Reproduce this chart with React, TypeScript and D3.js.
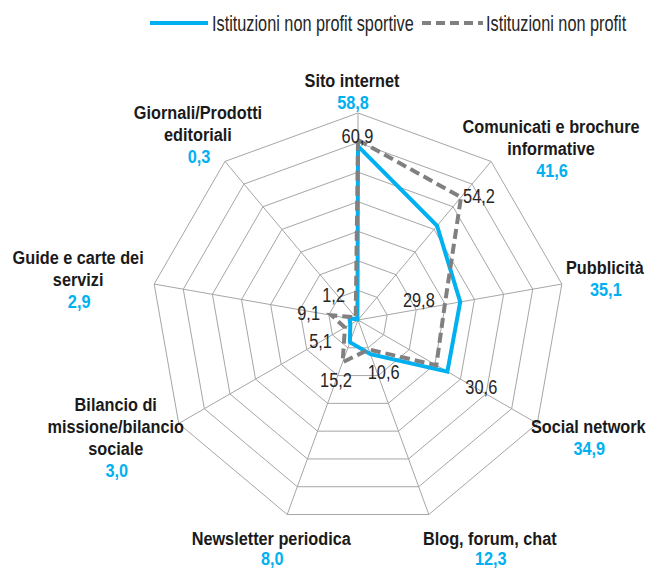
import React from "react";
import * as d3 from "d3";

const categories = [
  ["Sito internet"],
  ["Comunicati e brochure", "informative"],
  ["Pubblicità"],
  ["Social network"],
  ["Blog, forum, chat"],
  ["Newsletter periodica"],
  ["Bilancio di", "missione/bilancio", "sociale"],
  ["Guide e carte dei", "servizi"],
  ["Giornali/Prodotti", "editoriali"],
];
const sportive = [58.8, 41.6, 35.1, 34.9, 12.3, 8.0, 3.0, 2.9, 0.3];
const nonProfit = [60.9, 54.2, 29.8, 30.6, 10.6, 15.2, 5.1, 9.1, 1.2];
const ringTicks = [10, 20, 30, 40, 50, 60, 70];
const seriesNames = ["Istituzioni non profit sportive", "Istituzioni non profit"];

// layout (offsets from outer vertex for category labels; from point for value labels)
const catLabelOffsets: [number, number][] = [
  [-6, -26], [60, -28], [43, -10], [51, 9], [61, 30.5], [-16, 30.5], [-63, -12.5], [-76, -20], [-27, -42],
];
const valLabelOffsets: [number, number, string][] = [
  [-0.5, 3, "middle"], [2, 6, "start"], [-10, 2, "end"], [29, 29, "start"], [-1, 30, "start"],
  [-6.6, 25, "middle"], [-13, 20.5, "end"], [-11.5, 4.7, "end"], [-10.7, -15, "end"],
];

const W = 649, H = 569;
const cx = 358, cy = 320, R = 207;
const BLUE = "#00B0F0";
const GRAY = "#808080";
const fmt = (v: number) => v.toFixed(1).replace(".", ",");

export default function App() {
  const n = categories.length;
  const angle = d3.scaleLinear().domain([0, n]).range([0, 2 * Math.PI]);
  const r = d3.scaleLinear().domain([0, 70]).range([0, R]);
  const pt = (i: number, v: number): [number, number] => {
    const a = angle(i);
    return [cx + r(v) * Math.sin(a), cy - r(v) * Math.cos(a)];
  };
  const line = d3.line<[number, number]>().curve(d3.curveLinearClosed);
  const sPts = sportive.map((v, i) => pt(i, v));
  const nPts = nonProfit.map((v, i) => pt(i, v));

  const T = (x: number, y: number, sx: number) => `translate(${x},${y}) scale(${sx},1)`;
  const boldFont = { fontFamily: "'Liberation Sans', Arial, sans-serif", fontWeight: 700, fontSize: 18.5 };
  const regFont = { fontFamily: "'Liberation Sans', Arial, sans-serif", fontWeight: 400, fontSize: 21 };

  return (
    <svg width={W} height={H} style={{ position: "absolute", left: 0, top: 0, background: "#fff" }}>
      {/* grid */}
      <g fill="none" stroke="#a6a6a6" strokeWidth={1}>
        {ringTicks.map((t) => (
          <path key={t} d={line(d3.range(n).map((i) => pt(i, t)))!} />
        ))}
        {d3.range(n).map((i) => {
          const [x, y] = pt(i, 70);
          return <line key={i} x1={cx} y1={cy} x2={x} y2={y} />;
        })}
      </g>
      {/* series */}
      <path d={line(sPts)!} fill="none" stroke={BLUE} strokeWidth={4} strokeLinejoin="miter" />
      <path d={line(nPts)!} fill="none" stroke={GRAY} strokeWidth={4} strokeDasharray="10,5" />

      {/* gray value labels */}
      {nonProfit.map((v, i) => {
        const [x, y] = nPts[i];
        const [dx, dy, anchor] = valLabelOffsets[i];
        return (
          <text key={i} transform={T(x + dx, y + dy, 0.78)} textAnchor={anchor as any} fill="#262626" style={regFont}>
            {fmt(v)}
          </text>
        );
      })}

      {/* category labels */}
      {categories.map((lines, i) => {
        const [vx, vy] = pt(i, 70);
        const [dx, dy] = catLabelOffsets[i];
        const x = vx + dx, y0 = vy + dy;
        return (
          <g key={i}>
            {lines.map((l, j) => (
              <text key={j} transform={T(x, y0 + j * 22, 0.88)} textAnchor="middle" fill="#1a1a1a" style={boldFont}>
                {l}
              </text>
            ))}
            <text transform={T(x + 1, y0 + lines.length * 22 + (i === 4 || i === 5 ? -2 : 0), 0.88)} textAnchor="middle" fill={BLUE} style={boldFont}>
              {fmt(sportive[i])}
            </text>
          </g>
        );
      })}

      {/* legend */}
      <g>
        <line x1={150} x2={208} y1={23} y2={23} stroke={BLUE} strokeWidth={4} />
        <text transform={T(212, 31, 0.74)} fill="#262626" style={{ ...regFont, fontSize: 22 }}>{seriesNames[0]}</text>
        <line x1={422} x2={483} y1={23} y2={23} stroke={GRAY} strokeWidth={4} strokeDasharray="9,5" />
        <text transform={T(486, 31, 0.74)} fill="#262626" style={{ ...regFont, fontSize: 22 }}>{seriesNames[1]}</text>
      </g>
    </svg>
  );
}
